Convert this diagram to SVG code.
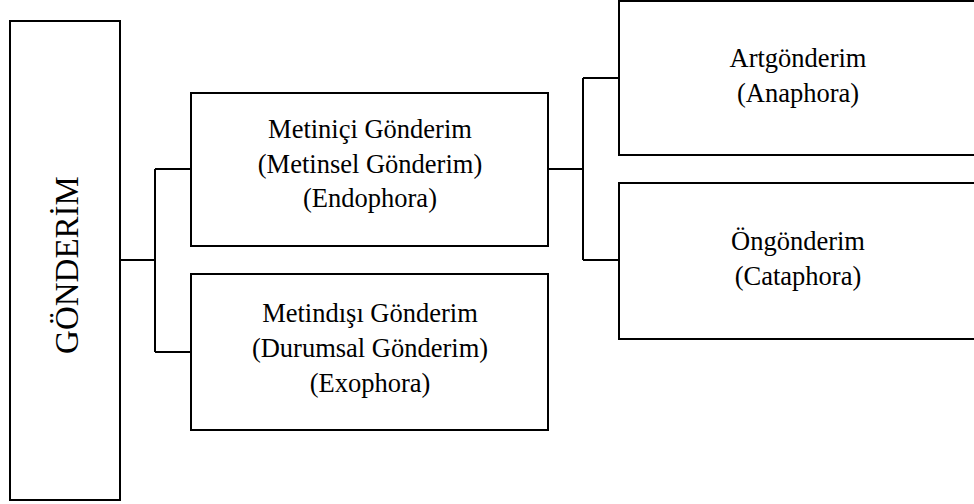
<svg xmlns="http://www.w3.org/2000/svg" width="974" height="504" viewBox="0 0 974 504">
<style>
.box{fill:#fff;stroke:#000;stroke-width:2}
.ln{fill:none;stroke:#000;stroke-width:2}
</style>
<rect width="974" height="504" fill="#fff"/>
<g id="connectors">
<path class="ln" d="M120 260H155M155 169V352M155 169H191M155 352H191"/>
<path class="ln" d="M548 169H583M583 78V260M583 78H619M583 260H619"/>
</g>
<g font-family="Liberation Serif, Times New Roman, serif" fill="#000" text-anchor="middle">
<g id="node-gonderim">
<rect class="box" x="10" y="21" width="110" height="479"/>
<text font-size="33" transform="translate(78 265) rotate(-90)">GÖNDERİM</text>
</g>
<g id="node-metinici" font-size="26.5">
<rect class="box" x="191" y="93" width="357" height="153"/>
<text x="370" y="138">Metiniçi Gönderim</text>
<text x="370" y="173">(Metinsel Gönderim)</text>
<text x="370" y="207">(Endophora)</text>
</g>
<g id="node-metindisi" font-size="26.5">
<rect class="box" x="191" y="274" width="357" height="156"/>
<text x="370" y="322">Metindışı Gönderim</text>
<text x="370" y="357">(Durumsal Gönderim)</text>
<text x="370" y="392">(Exophora)</text>
</g>
<g id="node-artgonderim" font-size="26.5">
<rect class="box" x="619" y="1" width="360" height="154"/>
<text x="798" y="67">Artgönderim</text>
<text x="798" y="102">(Anaphora)</text>
</g>
<g id="node-ongonderim" font-size="26.5">
<rect class="box" x="619" y="183" width="360" height="156"/>
<text x="798" y="250">Öngönderim</text>
<text x="798" y="285">(Cataphora)</text>
</g>
</g>
</svg>
